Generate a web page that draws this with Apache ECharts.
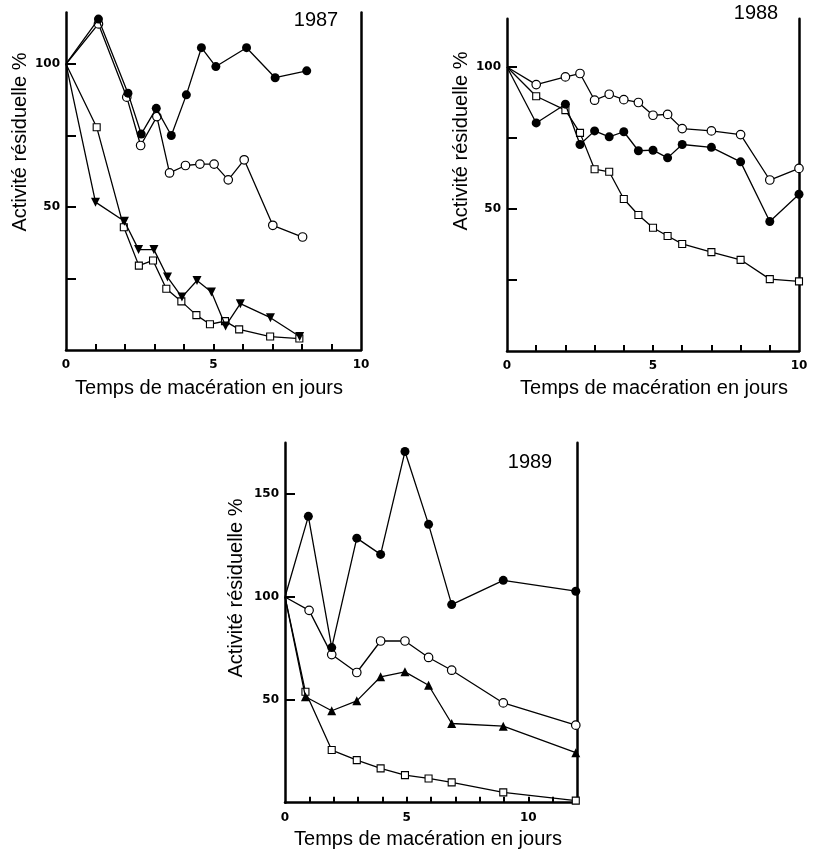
<!DOCTYPE html>
<html><head><meta charset="utf-8">
<script src="https://cdn.jsdelivr.net/npm/echarts@6/dist/echarts.min.js"></script>
<style>html,body{margin:0;padding:0;background:#fff}#c{width:814px;height:854px}</style>
</head><body><div id="c"></div>
<script>
// ---------- 1987 ----------
const x87Filled = [0,1.10,2.10,2.55,3.06,3.57,4.08,4.59,5.08,6.12,7.09,8.16];
const y87Filled = [100,115.7,89.8,75.5,84.5,75,89.2,105.7,99.1,105.7,95.2,97.6];
const x87Open = [0,1.10,2.06,2.53,3.08,3.51,4.05,4.54,5.02,5.50,6.04,7.01,8.02];
const y87Open = [100,114,88.4,71.5,81.6,61.9,64.5,65,65,59.5,66.5,43.6,39.5];
const x87Tri = [0,1.0,1.98,2.46,2.98,3.44,3.93,4.44,4.93,5.41,5.91,6.93,7.92];
const y87Tri = [100,51.7,45,35.1,35.1,25.5,18.5,24.3,20.3,8.4,16.2,11.3,4.7];
const x87Sq = [0,1.04,1.96,2.47,2.95,3.40,3.91,4.42,4.88,5.39,5.87,6.92,7.91];
const y87Sq = [100,77.9,42.9,29.5,31.3,21.4,17,12.2,9,10.1,7.2,4.7,4];
// ---------- 1988 ----------
const x88 = [0,1,2,2.5,3,3.5,4,4.5,5,5.5,6,7,8,9,10];
const y88Open = [100,93.8,96.5,97.7,88.3,90.4,88.5,87.5,83,83.3,78.3,77.5,76.2,60.2,64.3];
const y88Filled = [100,80.3,86.9,72.7,77.5,75.4,77.2,70.5,70.7,68,72.7,71.7,66.6,45.6,55.2];
const y88Sq = [100,89.7,84.8,76.8,64,63.1,53.5,47.9,43.4,40.5,37.7,34.8,32.1,25.3,24.5];
// ---------- 1989 ----------
const x89Filled = [0,0.96,1.92,2.95,3.93,4.93,5.9,6.85,8.97,11.95];
const x89Open = [0,0.99,1.92,2.95,3.93,4.93,5.9,6.85,8.97,11.95];
const x89TriSq = [0,0.84,1.92,2.95,3.93,4.93,5.9,6.85,8.97,11.95];
const y89Filled = [100,139.2,75.4,128.6,120.7,170.7,135.3,96.3,108.1,102.8];
const y89Open = [100,93.5,72,63.3,78.6,78.6,70.6,64.4,48.5,37.7];
const y89Tri = [100,51.5,44.7,49.5,61.2,63.6,57.1,38.5,37.2,24.3];
const y89Sq = [100,53.9,25.6,20.7,16.7,13.4,11.8,9.9,5.0,1.0];
// ---------- ticks / labels ----------
const yTicksA = [25,50,75,100];
const yLabelsA = [50,100];
const yTicksB = [50,100,150];
const yLabelsB = [50,100,150];
const xTicksA = [1,2,3,4,5,6,7,8,9];
const xTicksB = [1,2,3,4,5,6,7,8,9,10,11];
const xLabels = [0,5,10];
const years = ['1987','1988','1989'];
const yTitle = 'Activité résiduelle %';
const xTitle = 'Temps de macération en jours';

function pts(xs, ys){
  return xs.map((x,i)=> i===0 ? {value:[x,ys[i]], symbol:'none'} : [x,ys[i]]);
}
const AXC = '#000';
const lblStyle = {color:'#000', fontFamily:'DejaVu Sans', fontWeight:'bold', fontSize:12};

const grids = [
  {left:66, right:453, top:12.5, bottom:504},
  {left:507, right:15, top:18.7, bottom:503},
  {left:285, right:237, top:442.7, bottom:51.3}
];
const yMax = [118,117,175];
const xMax = [10,10,12];

const xAxes = [], yAxes = [];
for (let i=0;i<3;i++){
  xAxes.push({gridIndex:i, type:'value', min:0, max:xMax[i],
    axisLine:{show:true, onZero:false, lineStyle:{color:AXC, width:2.5}},
    axisTick:{show:true, inside:true, length:6, customValues: i<2?xTicksA:xTicksB, lineStyle:{color:AXC,width:2}},
    axisLabel:Object.assign({customValues:xLabels, margin:9}, lblStyle),
    splitLine:{show:false}});
  yAxes.push({gridIndex:i, type:'value', min:0, max:yMax[i], position:'left',
    axisLine:{show:true, onZero:false, lineStyle:{color:AXC, width:2.5}},
    axisTick:{show:true, inside:true, length:10, customValues: i<2?yTicksA:yTicksB, lineStyle:{color:AXC,width:2}},
    axisLabel:Object.assign({customValues: i<2?yLabelsA:yLabelsB, margin:6}, lblStyle),
    splitLine:{show:false}});
}
for (let i=0;i<3;i++){
  yAxes.push({gridIndex:i, type:'value', min:0, max:yMax[i], position:'right',
    axisLine:{show:true, onZero:false, lineStyle:{color:AXC, width:2.5}},
    axisTick:{show:false}, axisLabel:{show:false}, splitLine:{show:false}});
}

const lineStyle = {color:'#000', width:1.3};
const filledC = {symbol:'circle', symbolSize:9, itemStyle:{color:'#000', borderColor:'#000', borderWidth:0}};
const openC = {symbol:'circle', symbolSize:8.5, itemStyle:{color:'#fff', borderColor:'#000', borderWidth:1.2}};
const sq = {symbol:'rect', symbolSize:7, itemStyle:{color:'#fff', borderColor:'#000', borderWidth:1.1}};
const triDown = {symbol:'triangle', symbolRotate:180, symbolSize:9, itemStyle:{color:'#000'}};
const triUp = {symbol:'triangle', symbolSize:9, itemStyle:{color:'#000'}};

function ser(gi, xs, ys, st, z){
  return Object.assign({type:'line', xAxisIndex:gi, yAxisIndex:gi, data:pts(xs,ys),
    lineStyle:lineStyle, clip:false, z:z||2, showAllSymbol:true, animation:false}, st);
}

const series = [
  ser(0, x87Sq, y87Sq, sq, 2),
  ser(0, x87Tri, y87Tri, triDown, 3),
  ser(0, x87Open, y87Open, openC, 4),
  ser(0, x87Filled, y87Filled, filledC, 5),
  ser(1, x88, y88Sq, sq, 2),
  ser(1, x88, y88Filled, filledC, 3),
  ser(1, x88, y88Open, openC, 4),
  ser(2, x89TriSq, y89Sq, sq, 2),
  ser(2, x89TriSq, y89Tri, triUp, 3),
  ser(2, x89Open, y89Open, openC, 4),
  ser(2, x89Filled, y89Filled, filledC, 5)
];

const tFont = {fill:'#000', fontFamily:'Liberation Sans', fontSize:20, align:'center', verticalAlign:'middle'};
function txt(s, x, y, rot){
  return {type:'text', x:x, y:y, rotation:rot||0, style:Object.assign({text:s}, tFont)};
}
const graphic = [
  txt(yTitle, 20, 142, Math.PI/2),
  txt(yTitle, 461, 141, Math.PI/2),
  txt(yTitle, 236, 588, Math.PI/2),
  txt(xTitle, 209, 388),
  txt(xTitle, 654, 388),
  txt(xTitle, 428, 839),
  txt(years[0], 316, 20),
  txt(years[1], 756, 13),
  txt(years[2], 530, 462)
];

const chart = echarts.init(document.getElementById('c'), null, {renderer:'canvas'});
chart.setOption({animation:false, backgroundColor:'#fff', grid:grids, xAxis:xAxes, yAxis:yAxes, series:series, graphic:graphic});
</script></body></html>
